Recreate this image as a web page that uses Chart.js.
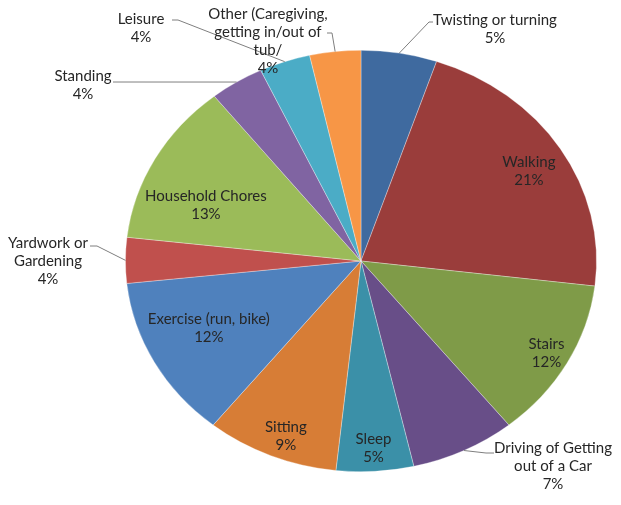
<!DOCTYPE html>
<html>
<head>
<meta charset="utf-8">
<script src="https://cdn.jsdelivr.net/npm/chart.js@4"></script>
<style>
  html, body { margin: 0; padding: 0; background: #fff; }
  #wrap { width: 621px; height: 505px; }
</style>
</head>
<body>
<div id="wrap"><canvas id="pieChart" width="621" height="505"></canvas></div>
<script>
// slice data, clockwise from 12 o'clock
const labels = ['Twisting or turning', 'Walking', 'Stairs', 'Driving of Getting out of a Car', 'Sleep',
    'Sitting', 'Exercise (run, bike)', 'Yardwork or Gardening', 'Household Chores', 'Standing',
    'Leisure', 'Other (Caregiving, getting in/out of tub/'];
const shares = [5.2, 21.7, 12.3, 7.2, 5.3, 9.1, 12.5, 3.5, 12.5, 3.7, 3.5, 3.5];
const pctText = ['5%', '21%', '12%', '7%', '5%', '9%', '12%', '4%', '13%', '4%', '4%', '4%'];
const colors = ['#3f6a9f', '#9a3d3b', '#7f9b48', '#684e88', '#3b90a8', '#d77d36',
    '#4f81bd', '#c0504d', '#9bbb59', '#8064a2', '#4bacc6', '#f79646'];

// label text lines (the chart wraps these by hand)
const labelLines = [
    ['Twisting or turning'], ['Walking'], ['Stairs'], ['Driving of Getting', 'out of a Car'], ['Sleep'],
    ['Sitting'], ['Exercise (run, bike)'], ['Yardwork or', 'Gardening'], ['Household Chores'], ['Standing'],
    ['Leisure'], ['Other (Caregiving,', 'getting in/out of', 'tub/']
];

// where each label sits: inside at a radius fraction (+ angle nudge in degrees),
// or outside with a leader line
const placement = [
    { out: true, x: 495, y: 20, line: [[433, 22], [429, 22]] },
    { f: 0.83, da: 1.4 },
    { f: 0.90, da: 0 },
    { out: true, x: 553, y: 448, line: [[494, 453], [486, 453]] },
    { f: 0.89, da: 0 },
    { f: 0.89, da: -1.5 },
    { f: 0.72, da: 2.4 },
    { out: true, x: 48, y: 243, line: [[90, 246], [97, 246]] },
    { f: 0.71, da: -7 },
    { out: true, x: 83, y: 76, line: [[113, 82]] },
    { out: true, x: 141, y: 19, line: [[172, 20], [178, 20]] },
    { out: true, x: 268, y: 14, line: [[327, 33], [332, 33]] }
];

const stretchX = 1.118;   // the original pie is an ellipse
const lineGap = 18;

const stretchPlugin = {
    id: 'stretch',
    beforeDatasetsDraw(chart) {
        const ctx = chart.ctx;
        const cx = chart.getDatasetMeta(0).data[0].x;
        ctx.save();
        ctx.translate(cx, 0);
        ctx.scale(stretchX, 1);
        ctx.translate(-cx, 0);
    },
    afterDatasetsDraw(chart) {
        chart.ctx.restore();
    }
};

const labelPlugin = {
    id: 'sliceLabels',
    afterDraw(chart) {
        const ctx = chart.ctx;
        const arcs = chart.getDatasetMeta(0).data;
        ctx.save();
        ctx.font = '15px Lato, "Open Sans", sans-serif';
        ctx.textAlign = 'center';
        ctx.textBaseline = 'middle';
        arcs.forEach((arc, i) => {
            const p = placement[i];
            const mid = (arc.startAngle + arc.endAngle) / 2;
            const lines = labelLines[i].concat([pctText[i]]);
            let tx, ty;
            if (p.out) {
                // leader line from slice rim to label
                const rx = arc.x + Math.cos(mid) * arc.outerRadius * stretchX;
                const ry = arc.y + Math.sin(mid) * arc.outerRadius;
                ctx.strokeStyle = '#7f7f7f';
                ctx.lineWidth = 1;
                ctx.beginPath();
                ctx.moveTo(rx, ry);
                for (let k = p.line.length - 1; k >= 0; k--) ctx.lineTo(p.line[k][0], p.line[k][1]);
                ctx.stroke();
                tx = p.x;
                ty = p.y;
            } else {
                const a = mid + p.da * Math.PI / 180;
                tx = arc.x + Math.cos(a) * arc.outerRadius * p.f * stretchX;
                ty = arc.y + Math.sin(a) * arc.outerRadius * p.f - (lines.length - 1) * lineGap / 2;
            }
            ctx.fillStyle = '#262626';
            lines.forEach((t, k) => ctx.fillText(t, tx, ty + k * lineGap));
        });
        ctx.restore();
    }
};

window.onload = function () {
    const ctx = document.getElementById('pieChart').getContext('2d');
    new Chart(ctx, {
        type: 'pie',
        data: {
            labels: labels,
            datasets: [{
                data: shares,
                backgroundColor: colors,
                borderColor: 'rgba(255,255,255,0.5)',
                borderWidth: 0.6,
                clip: false
            }]
        },
        options: {
            responsive: false,
            animation: false,
            events: [],
            layout: { padding: { top: 50, bottom: 33, left: 150, right: 49 } },
            plugins: {
                legend: { display: false },
                tooltip: { enabled: false }
            }
        },
        plugins: [stretchPlugin, labelPlugin]
    });
};
</script>
</body>
</html>
